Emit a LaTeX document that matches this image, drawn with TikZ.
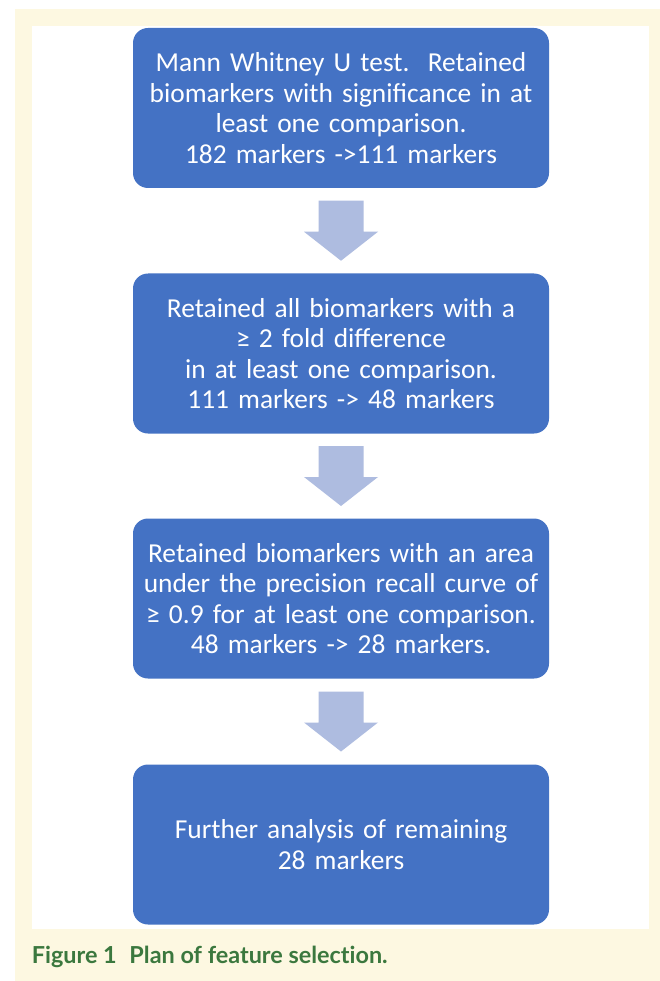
\documentclass[tikz,border=0pt]{standalone}
\usepackage{fontspec}
\setmainfont{Carlito}
\newfontfamily\capfont[Ligatures={NoCommon,NoRare}]{Lato}
\usetikzlibrary{calc}
\definecolor{cream}{RGB}{253,248,225}
\definecolor{boxblue}{RGB}{68,114,196}
\definecolor{arrowblue}{RGB}{174,188,224}
\definecolor{capgreen}{RGB}{59,120,62}
\tikzset{
  stagebox/.style={draw=none, fill=boxblue, rounded corners=15pt,
    minimum width=416pt, minimum height=160pt, inner sep=0pt,
    text=white, align=center, text width=400pt,
    font=\fontsize{27.4}{30.5}\selectfont},
  blockarrow/.style={fill=arrowblue, draw=none}
}
\newcommand{\downarrowbetween}[2]{%
  \coordinate (m) at ($(#1.south)!0.5!(#2.north)$);
  \fill[blockarrow] ($(m)+(-22.5,-30)$) -- ($(m)+(22.5,-30)$) -- ($(m)+(22.5,1)$)
    -- ($(m)+(37,1)$) -- ($(m)+(0,30)$) -- ($(m)+(-37,1)$) -- ($(m)+(-22.5,1)$) -- cycle;
}
\begin{document}
\begin{tikzpicture}[x=1pt,y=-1pt]
\useasboundingbox (0,0) rectangle (660,981);
\fill[white] (0,0) rectangle (660,981);
\fill[cream] (15,9) rectangle (660,981);
\fill[white] (31.7,25.7) rectangle (649,929);

\node[stagebox] (b1) at (341,108) {Mann Whitney U test.\ \ Retained\\biomarkers with significance in at\\least one comparison.\\182 markers ->111 markers};
\node[stagebox] (b2) at (341,353.5) {Retained all biomarkers with a\\≥ 2 fold difference\\in at least one comparison.\\111 markers -> 48 markers};
\node[stagebox] (b3) at (341,598.5) {Retained biomarkers with an area\\under the precision recall curve of\\≥ 0.9 for at least one comparison.\\48 markers -> 28 markers.};
\node[stagebox] (b4) at (341,844.5) {Further analysis of remaining\\28 markers};

\downarrowbetween{b1}{b2}
\downarrowbetween{b2}{b3}
\downarrowbetween{b3}{b4}

\node[anchor=base west, inner sep=0pt, text=capgreen,
  font=\capfont\bfseries\fontsize{23.4}{27}\selectfont] (cap) at (31.7,963.5)
  {Figure 1\hspace{0.3em} Plan of feature selection.};
\end{tikzpicture}
\end{document}
